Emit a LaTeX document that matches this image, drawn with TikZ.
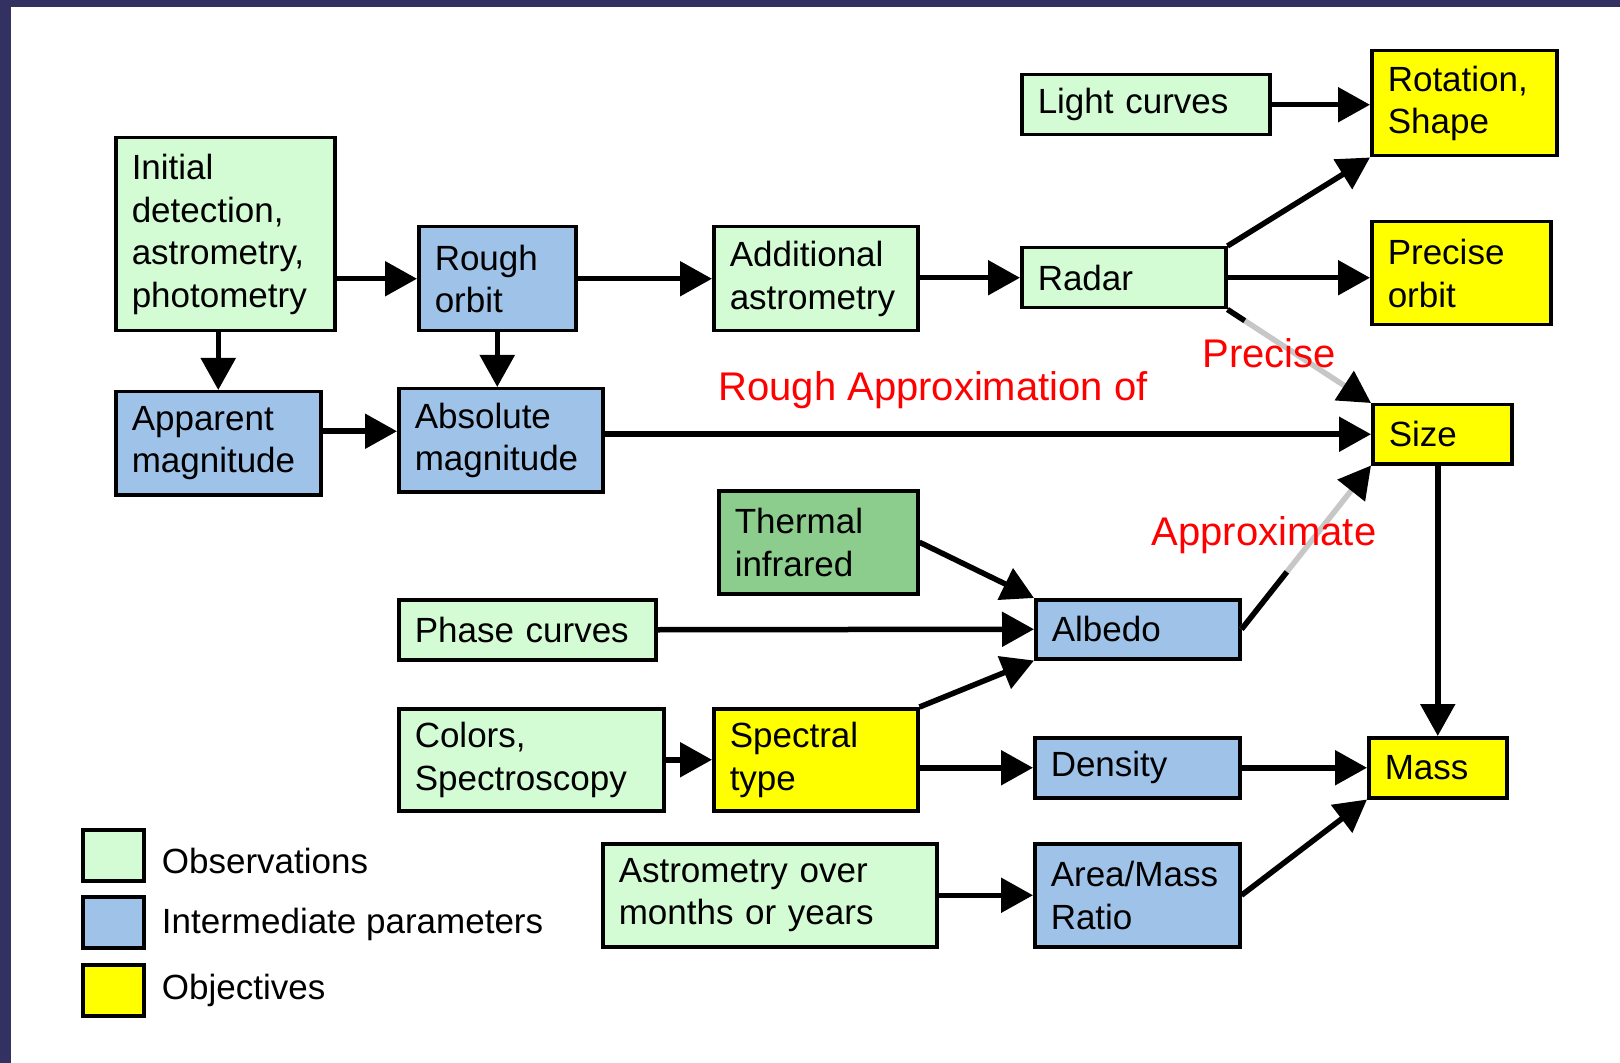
\documentclass[tikz,border=0pt]{standalone}
\usepackage{fontspec}
\setmainfont{Liberation Sans}
\usepackage{xcolor}
\usetikzlibrary{arrows.meta, calc, positioning}
\definecolor{obsgreen}{RGB}{212,252,212}
\definecolor{parblue}{RGB}{158,194,232}
\definecolor{objyellow}{RGB}{255,255,0}
\definecolor{irgreen}{RGB}{140,204,140}
\definecolor{framenavy}{RGB}{51,49,98}

\begin{document}
\begin{tikzpicture}[x=0.5pt, y=-0.5pt,
    box/.style={draw, line width=1.75pt, anchor=north west, align=left,
      inner xsep=8pt, inner ysep=0pt, font=\fontsize{17.5}{21.25}\selectfont},
    obsbox/.style={box, fill=obsgreen},
    parbox/.style={box, fill=parblue},
    objbox/.style={box, fill=objyellow},
    linkstyle/.style={line width=2.75pt, -{Triangle[length=16pt, width=17pt]}},
    fadestyle/.style={line width=2.75pt, black!22, -{Triangle[length=16pt, width=17pt, color=black]}},
    redlabel/.style={text=red, font=\fontsize{20}{24}\selectfont},
    keybox/.style={draw, line width=1.75pt, minimum width=30.5pt, minimum height=25.5pt, anchor=north west},
    keytext/.style={font=\fontsize{17.5}{21.25}\selectfont, inner xsep=0pt}]
  \useasboundingbox (0,0) rectangle (1620,1063);
  \fill[framenavy] (0,0) rectangle (1620,1063);
  \fill[white] (11,7) rectangle (1620,1063);

  \node[obsbox, minimum width=109.5pt, minimum height=96.5pt, text width=93.5pt] (init) at (114,136) {Initial\\detection,\\astrometry,\\photometry};
  \node[parbox, minimum width=78.5pt, minimum height=52pt, text width=62.5pt] (rough) at (417,225) {Rough\\orbit};
  \node[obsbox, minimum width=102pt, minimum height=52pt, text width=86pt] (addl) at (712,225) {Additional\\astrometry};
  \node[obsbox, minimum width=102pt, minimum height=30pt, text width=86pt] (radar) at (1020,246) {Radar};
  \node[obsbox, minimum width=124pt, minimum height=30pt, text width=108pt] (light) at (1020,73) {Light curves};
  \node[objbox, minimum width=92.5pt, minimum height=52.5pt, text width=76.5pt] (rot) at (1370,49) {Rotation,\\Shape};
  \node[objbox, minimum width=89.5pt, minimum height=51.5pt, text width=73.5pt] (precise) at (1370,220) {Precise\\orbit};
  \node[objbox, minimum width=69.5pt, minimum height=29.5pt, text width=53.5pt] (size) at (1371,403) {Size};
  \node[parbox, minimum width=102.5pt, minimum height=51.5pt, text width=86.5pt] (apparent) at (114,390) {Apparent\\magnitude};
  \node[parbox, minimum width=102pt, minimum height=51.5pt, text width=86pt] (absolute) at (397,387) {Absolute\\magnitude};
  \node[box, fill=irgreen, minimum width=99.5pt, minimum height=51.5pt, text width=83.5pt] (thermal) at (717,489) {Thermal\\infrared};
  \node[obsbox, minimum width=128.5pt, minimum height=30pt, text width=112.5pt] (phase) at (397,598) {Phase curves};
  \node[parbox, minimum width=102pt, minimum height=29.5pt, text width=86pt] (albedo) at (1034,598) {Albedo};
  \node[obsbox, minimum width=132.5pt, minimum height=51pt, text width=116.5pt] (colors) at (397,707) {Colors,\\Spectroscopy};
  \node[objbox, minimum width=102pt, minimum height=51pt, text width=86pt] (spectral) at (712,707) {Spectral\\type};
  \node[parbox, minimum width=102.5pt, minimum height=30pt, text width=86.5pt] (density) at (1033,736) {Density};
  \node[objbox, minimum width=69pt, minimum height=30pt, text width=53pt] (mass) at (1367,736) {Mass};
  \node[obsbox, minimum width=167pt, minimum height=51.5pt, text width=151pt] (astrom) at (601,842) {Astrometry over\\months or years};
  \node[parbox, minimum width=102.5pt, minimum height=51.5pt, text width=86.5pt] (aream) at (1033,842) {Area/Mass\\Ratio};

  \draw[linkstyle] (init.east |- rough.west) -- (rough.west);
  \draw[linkstyle] (apparent.north |- init.south) -- (apparent.north);
  \draw[linkstyle] (rough.south) -- (rough.south |- absolute.north);
  \draw[linkstyle] (rough.east) -- (addl.west);
  \draw[linkstyle] (addl.east |- radar.west) -- (radar.west);
  \draw[linkstyle] (light.east) -- (light.east -| rot.west);
  \draw[linkstyle] (radar.north east) -- (rot.south west);
  \draw[linkstyle] (radar.east) -- (radar.east -| precise.west);
  \draw[fadestyle] (radar.south east) -- (size.north west);
  \draw[line width=2.75pt] (radar.south east) -- ($(radar.south east)!0.12!(size.north west)$);
  \draw[linkstyle] ([yshift=6pt]apparent.east) -- ([yshift=6pt]apparent.east -| absolute.west);
  \draw[linkstyle] (absolute.east |- size.west) -- (size.west);
  \draw[linkstyle] (mass.north |- size.south) -- (mass.north);
  \draw[linkstyle] (thermal.east) -- (albedo.north west);
  \draw[linkstyle] (phase.east) -- (albedo.west);
  \draw[linkstyle] (spectral.north east) -- (albedo.south west);
  \draw[fadestyle] (albedo.east) -- (size.south west);
  \draw[line width=2.75pt] (albedo.east) -- ($(albedo.east)!0.35!(size.south west)$);
  \draw[linkstyle] (colors.east) -- (spectral.west);
  \draw[linkstyle] (spectral.east |- density.west) -- (density.west);
  \draw[linkstyle] (density.east) -- (mass.west);
  \draw[linkstyle] (astrom.east) -- (aream.west);
  \draw[linkstyle] (aream.east) -- (mass.south west);

  \node[redlabel] (lblrough) at (933,390) {Rough Approximation of};
  \node[redlabel] (lblprecise) at (1269,353) {Precise};
  \node[redlabel] (lblapprox) at (1264,535) {Approximate};

  \node[keybox, fill=obsgreen] (keyobs) at (81,828) {};
  \node[keybox, fill=parblue] (keypar) at (81,895) {};
  \node[keybox, fill=objyellow] (keyobj) at (81,963) {};
  \node[keytext, right=8pt of keyobs, yshift=-3pt] (keyobstext) {Observations};
  \node[keytext, right=8pt of keypar, yshift=-1pt] (keypartext) {Intermediate parameters};
  \node[keytext, right=8pt of keyobj] (keyobjtext) {Objectives};
\end{tikzpicture}
\end{document}
